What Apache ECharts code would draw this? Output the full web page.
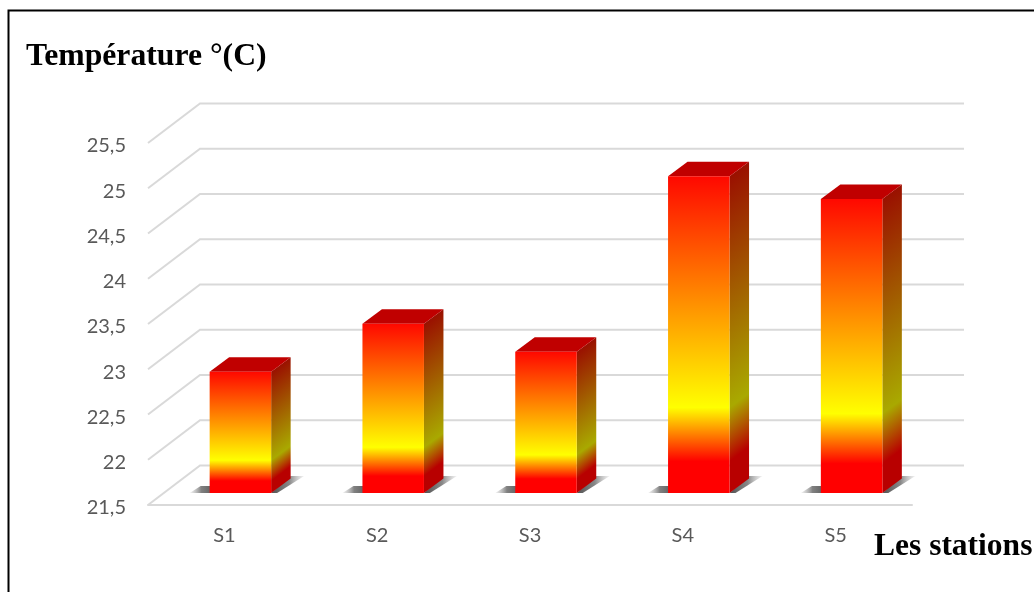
<!DOCTYPE html>
<html>
<head>
<meta charset="utf-8">
<style>
  html, body { margin: 0; padding: 0; background: #fff; }
  #chart { width: 1034px; height: 592px; }
</style>
<script src="https://cdn.jsdelivr.net/npm/echarts@6/dist/echarts.min.js"></script>
</head>
<body>
<div id="chart"></div>
<script>
// values
var stations = ["S1", "S2", "S3", "S4", "S5"];
var temperatures = [22.84, 23.37, 23.06, 25, 24.75];
var tickValues = [21.5, 22, 22.5, 23, 23.5, 24, 24.5, 25, 25.5];

// fake 3d depth of the floor and of the bars, in px
var wallDx = 52, wallDy = -39.5;
var barDx = 19.5, barDy = -14.5;
var barShiftX = 16, barShiftY = -12;
var barWidth = 61.5;

var frontStops = [
  { offset: 0, color: "#ff0800" },
  { offset: 0.73, color: "#ffff00" },
  { offset: 0.9, color: "#ff0000" },
  { offset: 1, color: "#ff0000" }
];
var sideStops = [
  { offset: 0, color: "#9a1000" },
  { offset: 0.73, color: "#a9a900" },
  { offset: 0.9, color: "#b80000" },
  { offset: 1, color: "#b80000" }
];

function renderWall(params, api) {
  var rect = params.coordSys;
  var y = api.coord([0, api.value(0)])[1];
  var x0 = rect.x, x1 = rect.x + rect.width;
  return {
    type: "polyline",
    silent: true,
    shape: { points: [[x0, y], [x0 + wallDx, y + wallDy], [x1 + wallDx, y + wallDy]] },
    style: { fill: null, stroke: "#d9d9d9", lineWidth: 2 }
  };
}

function renderBar(params, api) {
  var top = api.coord([api.value(0), api.value(1)]);
  var base = api.coord([api.value(0), tickValues[0]]);
  var x0 = top[0] + barShiftX - barWidth / 2;
  var x1 = x0 + barWidth;
  var yt = top[1] + barShiftY;
  var yb = base[1] + barShiftY;
  // side gradient runs across the slant so its bands follow the depth
  var len = Math.sqrt(barDx * barDx + barDy * barDy);
  var nx = -barDy / len, ny = barDx / len;
  var l = (yb - yt) * ny;
  return {
    type: "group",
    silent: true,
    children: [
      {
        type: "polygon",
        shape: { points: [[x0 - 20, yb], [x0 + 6, yb], [x0 + 6, yb - 7], [x0 - 9, yb - 7]] },
        style: {
          fill: new echarts.graphic.LinearGradient(0, 0, 1, 0, [
            { offset: 0, color: "rgba(170,170,170,0.15)" },
            { offset: 0.45, color: "rgba(115,115,115,0.9)" },
            { offset: 1, color: "rgba(85,85,85,1)" }
          ])
        }
      },
      {
        type: "polygon",
        shape: { points: [[x1, yb], [x1 + 6, yb], [x1 + 33, yb - 17], [x1 + barDx, yb - 17]] },
        style: {
          fill: new echarts.graphic.LinearGradient(0, 0, 1, 0, [
            { offset: 0, color: "rgba(80,80,80,1)" },
            { offset: 0.55, color: "rgba(115,115,115,0.85)" },
            { offset: 1, color: "rgba(170,170,170,0.15)" }
          ])
        }
      },
      {
        type: "polygon",
        shape: { points: [[x1, yt], [x1 + barDx, yt + barDy], [x1 + barDx, yb + barDy], [x1, yb]] },
        style: {
          fill: new echarts.graphic.LinearGradient(x1, yt, x1 + nx * l, yt + ny * l, sideStops, true)
        }
      },
      {
        type: "polygon",
        shape: { points: [[x0, yt], [x1, yt], [x1 + barDx, yt + barDy], [x0 + barDx, yt + barDy]] },
        style: { fill: "#c00000" }
      },
      {
        type: "rect",
        shape: { x: x0, y: yt, width: barWidth, height: yb - yt },
        style: { fill: new echarts.graphic.LinearGradient(0, 0, 0, 1, frontStops) }
      }
    ]
  };
}

var myChart = echarts.init(document.getElementById("chart"));
myChart.setOption({
  animation: false,
  backgroundColor: "#fff",
  title: [
    {
      text: "Température °(C)",
      left: 26,
      top: 41,
      padding: 0,
      textStyle: { fontFamily: "Liberation Serif", fontSize: 31.7, fontWeight: "bold", color: "#000" }
    },
    {
      text: "Les stations",
      left: 874,
      top: 531,
      padding: 0,
      textStyle: { fontFamily: "Liberation Serif", fontSize: 31.5, fontWeight: "bold", color: "#000" }
    }
  ],
  graphic: [
    {
      type: "polyline",
      silent: true,
      shape: { points: [[8.5, 592], [8.5, 10.5], [1034, 10.5]] },
      style: { fill: null, stroke: "#000", lineWidth: 2 }
    }
  ],
  grid: { left: 148, right: 122, top: 143, bottom: 87 },
  xAxis: {
    type: "category",
    data: stations,
    axisLine: { show: true, lineStyle: { color: "#d9d9d9", width: 2 } },
    axisTick: { show: false },
    axisLabel: { margin: 21, fontFamily: "Lato", fontSize: 20, color: "#595959" }
  },
  yAxis: {
    type: "value",
    min: 21.5,
    max: 25.5,
    interval: 0.5,
    axisLine: { show: false },
    axisTick: { show: false },
    splitLine: { show: false },
    axisLabel: {
      margin: 22,
      fontFamily: "Lato",
      fontSize: 20,
      color: "#595959",
      verticalAlign: "top",
      lineHeight: 6,
      formatter: function (value) {
        return String(value).replace(".", ",");
      }
    }
  },
  series: [
    {
      type: "custom",
      coordinateSystem: "cartesian2d",
      encode: { y: 0 },
      clip: false,
      z: 1,
      data: tickValues.map(function (v) { return [v]; }),
      renderItem: renderWall
    },
    {
      type: "custom",
      coordinateSystem: "cartesian2d",
      encode: { x: 0, y: 1 },
      clip: false,
      z: 2,
      data: temperatures.map(function (v, i) { return [i, v]; }),
      renderItem: renderBar
    }
  ]
});
</script>
</body>
</html>
